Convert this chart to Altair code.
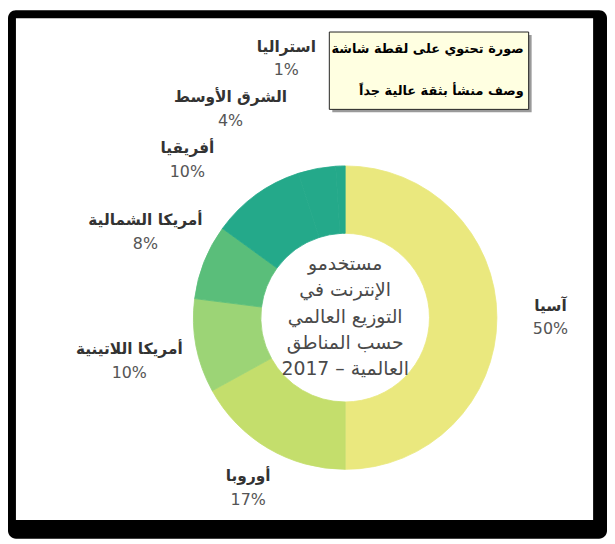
import altair as alt
import pandas as pd

# ---- data ----
regions = ["آسيا", "أوروبا", "أمريكا اللاتينية", "أمريكا الشمالية", "أفريقيا", "الشرق الأوسط", "استراليا"]
shares = [50, 17, 10, 8, 10, 4, 1]
center_lines = ["مستخدمو", "الإنترنت في", "التوزيع العالمي", "حسب المناطق", "العالمية – 2017"]
note_lines = ["صورة تحتوي على لقطة شاشة", "وصف منشأ بثقة عالية جداً"]

# ---- style ----
colors = ["#EAE87E", "#C4DE6C", "#9CD476", "#5ABE7A", "#24A98A", "#24A98A", "#24A98A"]
label_nudge_deg = [0, -1, -0.5, 1.5, -9, -18, -11]
label_radius = [207, 198, 222, 219, 225, 240, 268]
FONT = "DejaVu Sans"
CX, CY = 340, 310
W, H = 604, 533

df = pd.DataFrame({"region": regions, "share": shares, "idx": list(range(len(regions)))})
cum = df["share"].cumsum() - df["share"] / 2
df["lpos"] = cum + pd.Series(label_nudge_deg) / 3.6
df["lr"] = label_radius
df["pct"] = [f"{v}%" for v in shares]

one = pd.DataFrame({"a": [0]})
color_scale = alt.Scale(domain=regions, range=colors)

frame = alt.Chart(one).mark_rect(color="black", cornerRadius=8).encode(
    x=alt.value(0), x2=alt.value(W), y=alt.value(0), y2=alt.value(H))
paper = alt.Chart(one).mark_rect(color="white").encode(
    x=alt.value(8), x2=alt.value(590), y=alt.value(8), y2=alt.value(514))

arcs = alt.Chart(df).mark_arc(innerRadius=85, outerRadius=153, strokeWidth=0.8).encode(
    theta=alt.Theta("share:Q", stack=True, scale=alt.Scale(domain=[0, 100])),
    order=alt.Order("idx:Q"),
    color=alt.Color("region:N", scale=color_scale, legend=None),
    stroke=alt.Stroke("region:N", scale=color_scale, legend=None),
    x=alt.value(CX), y=alt.value(CY),
)

tscale = alt.Scale(domain=[0, 100], range=[0, 6.283185307179586])
names = alt.Chart(df).mark_text(font=FONT, fontSize=15.5, fontWeight="bold", color="#333333",
                                 align="center", baseline="middle", dy=-12).encode(
    theta=alt.Theta("lpos:Q", stack=False, scale=tscale),
    radius=alt.Radius("lr:Q", scale=None),
    text="region:N",
    x=alt.value(CX), y=alt.value(CY),
)
pcts = alt.Chart(df).mark_text(font=FONT, fontSize=16, color="#555555",
                                align="center", baseline="middle", dy=12).encode(
    theta=alt.Theta("lpos:Q", stack=False, scale=tscale),
    radius=alt.Radius("lr:Q", scale=None),
    text="pct:N",
    x=alt.value(CX), y=alt.value(CY),
)

cdf = pd.DataFrame({"t": center_lines, "k": list(range(len(center_lines)))})
center = alt.Chart(cdf).mark_text(
    font=FONT, fontSize=19, color="#4a4a4a", align="center", baseline="middle").encode(
    text="t:N", x=alt.value(CX),
    y=alt.Y("k:Q", scale=alt.Scale(domain=[0, 4], range=[CY - 54, CY + 52]), axis=None),
)

shadow = alt.Chart(one).mark_rect(color="#9a9a9a").encode(
    x=alt.value(327), x2=alt.value(528), y=alt.value(25), y2=alt.value(103))
box = alt.Chart(one).mark_rect(color="#FFFFE1", stroke="#222222", strokeWidth=1).encode(
    x=alt.value(324), x2=alt.value(525), y=alt.value(22), y2=alt.value(100))
ndf = pd.DataFrame({"t": note_lines, "k": [0, 1]})
note = alt.Chart(ndf).mark_text(
    font=FONT, fontSize=13, fontWeight="bold", color="black", align="right", baseline="middle").encode(
    text="t:N",
    x=alt.value(520),
    y=alt.Y("k:Q", scale=alt.Scale(domain=[0, 1], range=[39, 82]), axis=None),
)

chart = alt.layer(frame, paper, arcs, names, pcts, center, shadow, box, note).resolve_scale(
    theta="independent", radius="independent", y="independent"
).properties(width=W, height=H, padding=0, autosize="none").configure_view(stroke=None)

chart.save("out.html", embed_options={"renderer": "svg", "actions": False})
